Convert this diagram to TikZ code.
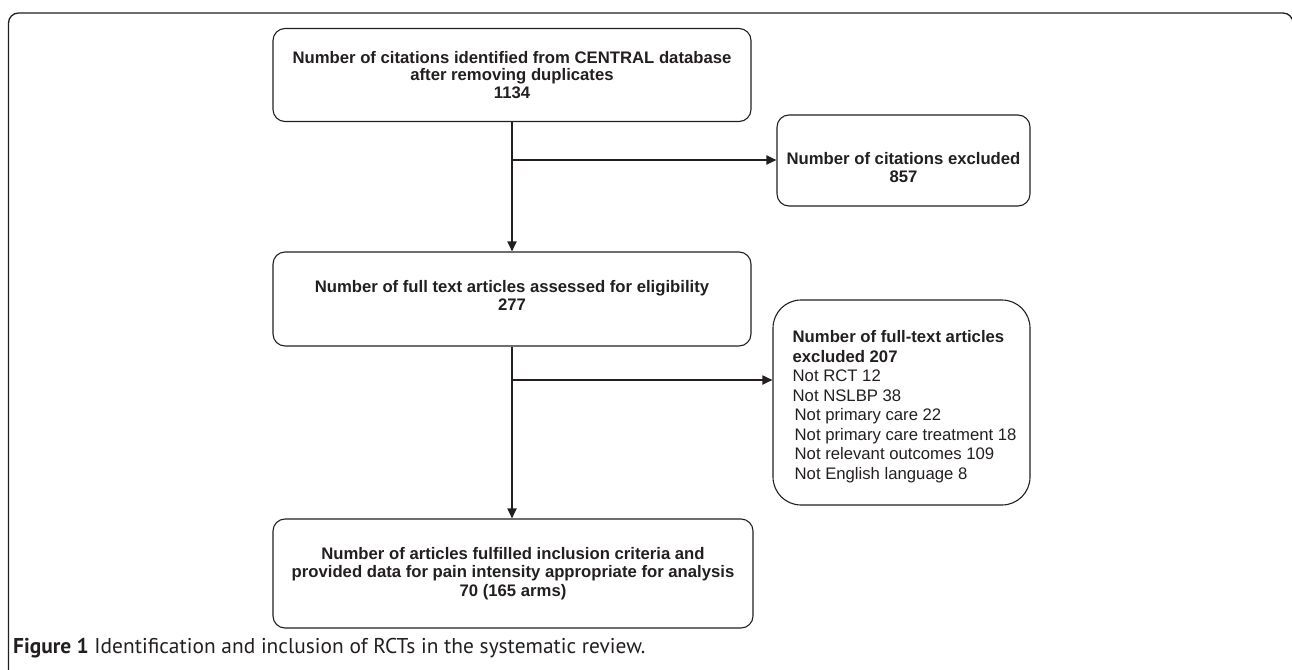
\documentclass[tikz,border=0pt]{standalone}
\usepackage{fontspec}
\setmainfont{Liberation Sans}
\newfontfamily\capfont{PT Sans}
\usetikzlibrary{arrows.meta}
\definecolor{ink}{HTML}{231F20}
\tikzset{
  box/.style={draw=ink, text=ink, rounded corners=12pt, line width=1.1pt, font=\bfseries\fontsize{16.7}{18.5}\selectfont, align=center, inner sep=0pt},
  bigbox/.style={draw=ink, rounded corners=28pt, line width=1.1pt, inner sep=0pt},
  arr/.style={draw=ink, line width=1.8pt, -{Triangle[length=10pt,width=9pt]}},
  frame/.style={draw=ink, line width=1.3pt, rounded corners=10pt}
}
\begin{document}
\begin{tikzpicture}[x=1pt,y=-1pt]
\useasboundingbox (0,0) rectangle (1292,669);
\draw[frame] (8.5,700) -- (8.5,13) -- (1293,13) -- (1293,700);
\node[box, minimum width=478pt, minimum height=93pt, font=\bfseries\fontsize{16.7}{17.5}\selectfont] (b1) at (512,75) {Number of citations identified from CENTRAL database\\after removing duplicates\\1134};
\node[box, minimum width=253pt, minimum height=91pt] (b3) at (903.5,160.5) {\rule{0pt}{26pt}Number of citations excluded\\857};
\node[box, minimum width=478pt, minimum height=94pt] (b2) at (512,299) {Number of full text articles assessed for eligibility\\277\rule[-7pt]{0pt}{0pt}};
\node[bigbox, minimum width=257pt, minimum height=205pt] (ex2) at (901.5,402.5) {};
\node[anchor=west, align=left, inner sep=0pt, text=ink, font=\fontsize{16.7}{19.5}\selectfont] (ex2t) at ([xshift=20pt,yshift=-4pt]ex2.west) {\textbf{Number of full-text articles}\\\textbf{excluded 207}\\Not RCT 12\\Not NSLBP 38\\\hspace*{2pt}Not primary care 22\\\hspace*{2pt}Not primary care treatment 18\\\hspace*{2pt}Not relevant outcomes 109\\\hspace*{2pt}Not English language 8};
\node[box, minimum width=480pt, minimum height=109pt] (b4) at (513,573.5) {Number of articles fulfilled inclusion criteria and\\provided data for pain intensity appropriate for analysis\\70 (165 arms)};
\coordinate (j1) at (512,160);
\coordinate (j2) at (512,380);
\draw[arr] (b1.south -| j1) -- (b2.north -| j1);
\draw[arr] (j1) -- (j1 -| b3.west);
\draw[arr] (b2.south -| j2) -- (b4.north -| j2);
\draw[arr] (j2) -- (j2 -| ex2.west);
\node[anchor=west, inner sep=0pt, text=ink, font=\capfont\fontsize{21.4}{24}\selectfont] (cap) at (13,648) {\textbf{Figure 1} Identification and inclusion of RCTs in the systematic review.};
\end{tikzpicture}
\end{document}
